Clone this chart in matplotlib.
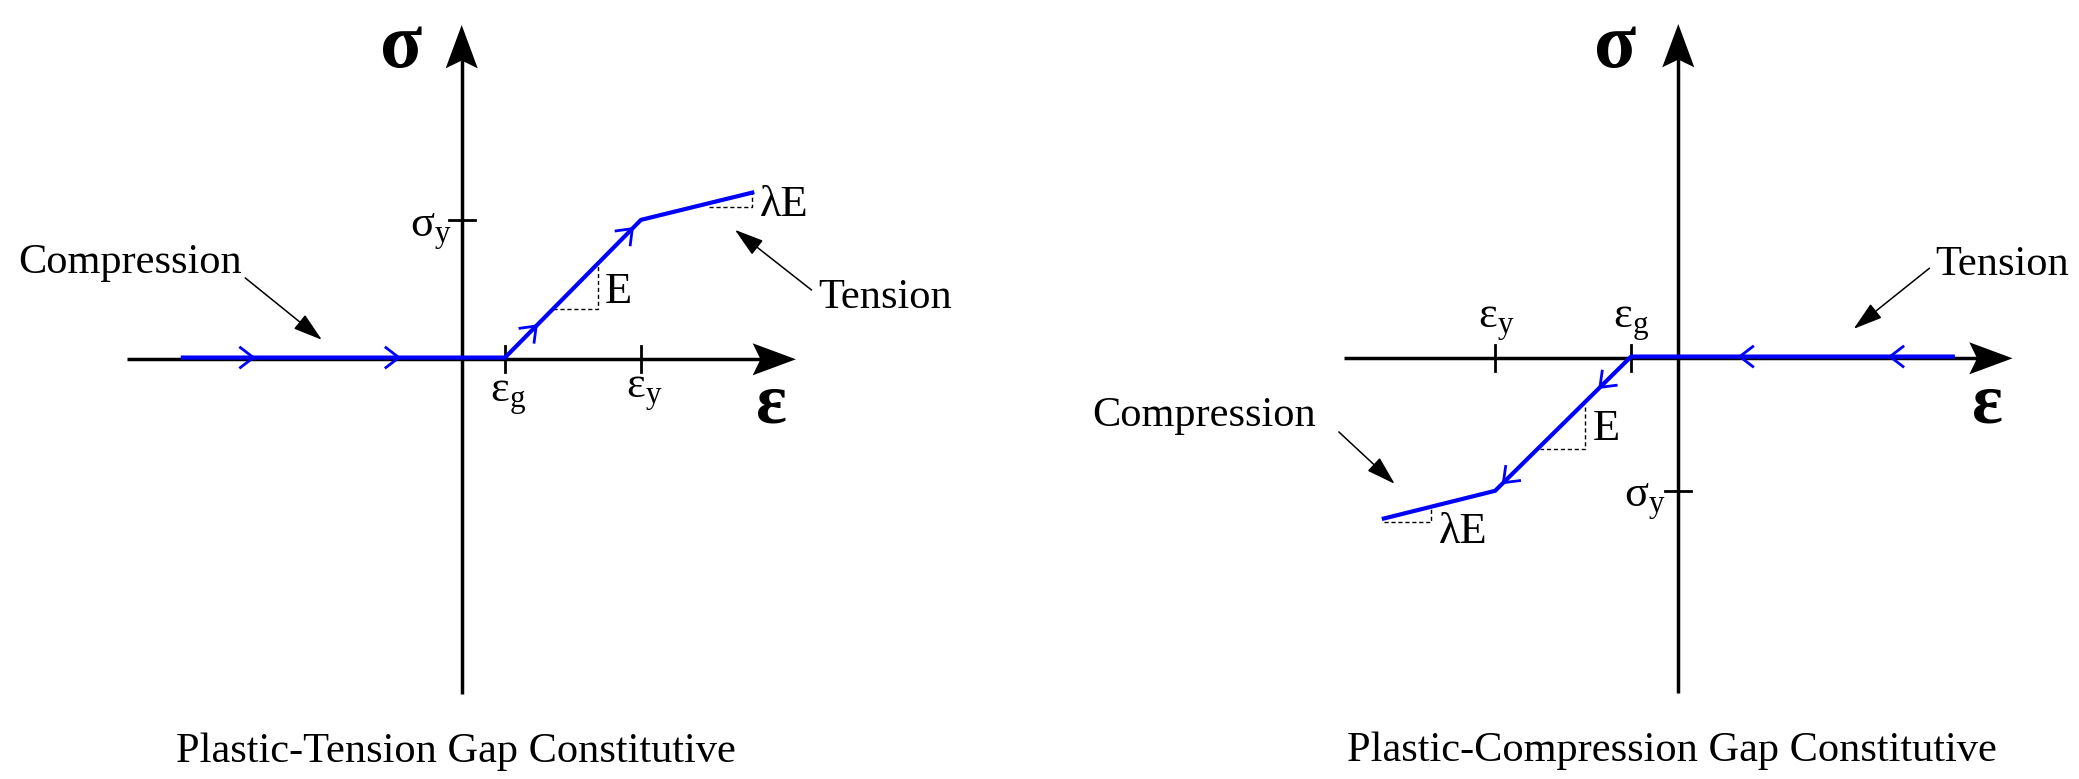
import numpy as np
import matplotlib.pyplot as plt
from matplotlib.patches import Polygon

plt.rcParams['font.family'] = ['Liberation Serif', 'DejaVu Serif']
plt.rcParams['mathtext.fontset'] = 'custom'
plt.rcParams['mathtext.rm'] = 'Liberation Serif'
plt.rcParams['mathtext.it'] = 'Liberation Serif:italic'

# ---- data (drawing units, origin where the axes cross) ----
span = 7.72

# plastic-tension gap
t_eps_g = 1.0
t_eps_y = 4.14
t_sig_y = 3.22
t_path_x = [-6.44, 1.0, 4.14, 6.71]      # in travel order
t_path_y = [0.0, 0.0, 3.22, 3.85]
t_chev_x = [-4.81, -1.45, 1.72, 3.94]
t_E_x = [2.11, 3.15, 3.15]
t_E_y = [1.17, 1.17, 2.18]
t_lE_x = [5.70, 6.71, 6.71]
t_lE_y = [3.52, 3.52, 3.85]

# plastic-compression gap
c_eps_g = -1.09
c_eps_y = -4.23
c_sig_y = -3.06
c_path_x = [6.34, -1.09, -4.23, -6.80]
c_path_y = [0.0, 0.0, -3.06, -3.70]
c_chev_x = [4.89, 1.42, -1.81, -4.04]
c_E_x = [-2.15, -2.15, -3.19]
c_E_y = [-1.12, -2.10, -2.10]
c_lE_x = [-6.80, -5.70, -5.70]
c_lE_y = [-3.79, -3.79, -3.46]

titles = ['Plastic-Tension Gap Constitutive', 'Plastic-Compression Gap Constitutive']

u = 43.3  # pixels per drawing unit
blue = '#0000ff'
lab_fs = 32
note_fs = 30.5

fig = plt.figure(figsize=(20.79, 7.79), dpi=100)
axL = fig.add_axes([0, 0, 0.5, 1])
axR = fig.add_axes([0.5, 0, 0.5, 1])


def set_view(ax, ox, oy):
    w, h = 2079 * 0.5, 779
    ax.set_xlim(-ox / u, (w - ox) / u)
    ax.set_ylim(-(h - oy) / u, oy / u)
    ax.axis('off')


def draw_axes(ax):
    ax.plot([-span, span - 0.8], [0, 0], color='k', lw=2.5, solid_capstyle='butt', zorder=2)
    ax.plot([0, 0], [-span, span - 0.8], color='k', lw=2.5, solid_capstyle='butt', zorder=2)
    head = np.array([[0, 0], [-1.0, 0.37], [-0.82, 0], [-1.0, -0.37]])
    ax.add_patch(Polygon(head + [span, 0], closed=True, color='k', lw=0, zorder=2))
    ax.add_patch(Polygon(head[:, ::-1] + [0, span], closed=True, color='k', lw=0, zorder=2))


def draw_path(ax, px, py, cx):
    # small lift so the blue sits on the upper edge of the black axis
    lift = 0.04
    py_draw = [y + lift if y == 0 else y for y in py]
    ax.plot(px, py_draw, color=blue, lw=3.0, zorder=4, solid_joinstyle='miter')
    px = np.array(px)
    py = np.array(py_draw)
    for x in cx:
        # segment containing x, in travel order
        for i in range(len(px) - 1):
            lo, hi = sorted([px[i], px[i + 1]])
            if lo <= x <= hi:
                break
        d = np.array([px[i + 1] - px[i], py[i + 1] - py[i]])
        d = d / np.hypot(*d)
        n = np.array([-d[1], d[0]])
        y = py[i] + (x - px[i]) * (py[i + 1] - py[i]) / (px[i + 1] - px[i])
        tip = np.array([x, y])
        a1 = tip - 0.3 * d + 0.23 * n
        a2 = tip - 0.3 * d - 0.23 * n
        ax.plot([a1[0], tip[0], a2[0]], [a1[1], tip[1], a2[1]], color=blue, lw=2.0,
                zorder=4, solid_joinstyle='miter')


def note_arrow(ax, tail, tip):
    ax.annotate('', xy=tip, xytext=tail,
                arrowprops=dict(arrowstyle='-|>,head_length=1.3,head_width=0.4',
                                mutation_scale=14, lw=1.1, color='k',
                                shrinkA=0, shrinkB=0))


# ---------------- left panel ----------------
set_view(axL, 461.7, 359.3)
draw_axes(axL)
draw_path(axL, t_path_x, t_path_y, t_chev_x)
axL.plot(t_E_x, t_E_y, color='k', lw=1.0, ls=(0, (3, 2)), zorder=3)
axL.plot(t_lE_x, t_lE_y, color='k', lw=1.0, ls=(0, (3, 2)), zorder=3)
for x in [t_eps_g, t_eps_y]:
    axL.plot([x, x], [-0.3, 0.3], color='k', lw=2.0, zorder=3)
axL.plot([-0.3, 0.3], [t_sig_y, t_sig_y], color='k', lw=2.0, zorder=3)

axL.text(-1.39, 6.76, 'σ', fontsize=56, fontweight='bold', ha='center', va='baseline')
axL.text(7.16, -1.47, 'ε', fontsize=52, fontweight='bold', ha='center', va='baseline')
axL.text(-0.23, 2.83, r'$\mathrm{σ_y}$', fontsize=lab_fs, ha='right', va='baseline')
axL.text(0.65, -0.98, r'$\mathrm{ε_g}$', fontsize=lab_fs, ha='left', va='baseline')
axL.text(3.80, -0.89, r'$\mathrm{ε_y}$', fontsize=lab_fs, ha='left', va='baseline')
axL.text(3.30, 1.30, 'E', fontsize=lab_fs, ha='left', va='baseline')
axL.text(6.89, 3.30, 'λE', fontsize=lab_fs, ha='left', va='baseline')

axL.text(-7.66, 1.99, 'Compression', fontsize=note_fs, ha='center', va='baseline')
note_arrow(axL, (-5.0, 1.88), (-3.23, 0.45))
axL.text(9.78, 1.18, 'Tension', fontsize=note_fs, ha='center', va='baseline')
note_arrow(axL, (8.08, 1.60), (6.31, 2.99))
axL.text(-0.13, -9.30, titles[0], fontsize=note_fs, ha='center', va='baseline')

# ---------------- right panel ----------------
set_view(axR, 1678.3 - 1039.5, 358.3)
draw_axes(axR)
draw_path(axR, c_path_x, c_path_y, c_chev_x)
axR.plot(c_E_x, c_E_y, color='k', lw=1.0, ls=(0, (3, 2)), zorder=3)
axR.plot(c_lE_x, c_lE_y, color='k', lw=1.0, ls=(0, (3, 2)), zorder=3)
for x in [c_eps_g, c_eps_y]:
    axR.plot([x, x], [-0.3, 0.3], color='k', lw=2.0, zorder=3)
axR.plot([-0.3, 0.3], [c_sig_y, c_sig_y], color='k', lw=2.0, zorder=3)

axR.text(-1.46, 6.73, 'σ', fontsize=56, fontweight='bold', ha='center', va='baseline')
axR.text(7.15, -1.49, 'ε', fontsize=52, fontweight='bold', ha='center', va='baseline')
axR.text(-0.29, -3.43, r'$\mathrm{σ_y}$', fontsize=lab_fs, ha='right', va='baseline')
axR.text(-1.50, 0.70, r'$\mathrm{ε_g}$', fontsize=lab_fs, ha='left', va='baseline')
axR.text(-4.62, 0.70, r'$\mathrm{ε_y}$', fontsize=lab_fs, ha='left', va='baseline')
axR.text(-1.97, -1.88, 'E', fontsize=lab_fs, ha='left', va='baseline')
axR.text(-5.53, -4.27, 'λE', fontsize=lab_fs, ha='left', va='baseline')

axR.text(7.49, 1.92, 'Tension', fontsize=note_fs, ha='center', va='baseline')
note_arrow(axR, (5.80, 2.08), (4.05, 0.68))
axR.text(-10.95, -1.57, 'Compression', fontsize=note_fs, ha='center', va='baseline')
note_arrow(axR, (-7.84, -1.70), (-6.55, -2.90))
axR.text(-0.15, -9.30, titles[1], fontsize=note_fs, ha='center', va='baseline')

fig.savefig('out.png', dpi=100)
